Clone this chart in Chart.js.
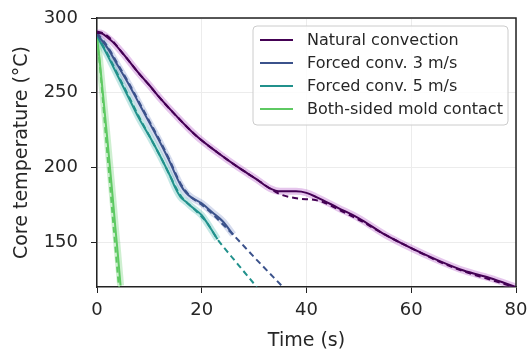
<!DOCTYPE html>
<html>
<head>
<meta charset="utf-8">
<script src="https://cdn.jsdelivr.net/npm/chart.js@4"></script>
<style>
  html, body { margin: 0; padding: 0; background: #fff; }
  #wrap { width: 529px; height: 352px; }
</style>
</head>
<body>
<div id="wrap"><canvas id="coolChart"></canvas></div>
<script>
// Series labels and colours (viridis)
const seriesNames = ['Natural convection', 'Forced conv. 3 m/s', 'Forced conv. 5 m/s', 'Both-sided mold contact'];
const lineColors = ['#440154', '#3b528b', '#21918c', '#5ec962'];
const bandColors = ['rgba(180,90,200,0.35)', 'rgba(120,140,200,0.3)', 'rgba(60,180,170,0.3)', 'rgba(94,201,98,0.3)'];

// Axis ticks
const xTicks = [0, 20, 40, 60, 80];
const yTicks = [150, 200, 250, 300];

// Natural convection - measured
const natTime = [0, 1, 2, 3, 5, 8, 10, 12, 15, 19, 23, 27, 30.5, 33, 35, 38, 40, 42, 46, 50, 55, 60, 65, 70, 75, 80];
const natTemp = [290, 289.5, 287, 284, 276, 263, 255, 246.5, 235, 221, 210, 200, 192, 186, 184, 184, 183, 180, 173, 166, 155, 146, 138, 131, 126, 120];
// Natural convection - model
const natModelTime = [0, 1, 2, 3, 5, 8, 10, 12, 15, 19, 23, 27, 30.5, 33, 35, 37, 39, 41, 43, 46, 50, 55, 60, 65, 70, 75, 80];
const natModelTemp = [291, 290, 288, 284.5, 276, 263, 255, 246.5, 235, 221, 210, 200, 192, 186, 182, 180, 179, 178.5, 177, 172, 165, 155, 146, 137.5, 130.5, 125, 119.5];

// Forced convection 3 m/s - measured / model
const f3Time = [0, 2, 4, 6, 8, 10, 12, 14, 15, 16, 17, 18, 20, 22, 24, 26];
const f3Temp = [289, 280, 268, 256, 243, 230, 217, 203, 195, 188, 183, 180, 176, 170, 164, 155];
const f3ModelTime = [0, 2, 4, 6, 8, 10, 12, 14, 15, 16, 17, 18, 20, 22, 24, 26, 30, 35.5];
const f3ModelTemp = [290, 281, 269, 257, 244, 231, 218, 204, 196, 189, 184, 180, 175, 169, 162, 155, 140, 120];

// Forced convection 5 m/s - measured / model
const f5Time = [0, 2, 4, 6, 8, 10, 12, 14, 15, 16, 17, 18.3, 20, 21, 22.1, 23];
const f5Temp = [288, 275, 261, 247, 233, 221, 208, 194, 186, 180, 177, 173, 168, 163, 157, 152];
const f5ModelTime = [0, 2, 4, 6, 8, 10, 12, 14, 15, 16, 17, 18.3, 20, 21, 22.1, 23, 26, 30.5];
const f5ModelTemp = [289, 276, 262, 248, 234, 221, 208, 194, 187, 181, 177, 173, 167, 163, 157, 152, 139, 120];

// Both-sided mold contact - measured / model
const moldTime = [0, 0.5, 1, 1.5, 2, 2.5, 3, 3.5, 4, 4.5];
const moldTemp = [287, 272, 254, 236, 218, 199, 180, 160, 141, 121];
const moldModelTime = [0, 0.5, 1, 1.5, 2, 2.5, 3, 3.5, 4, 4.2];
const moldModelTemp = [287, 270, 250, 229, 208, 188, 167, 147, 127, 120];

function toPoints(t, y) {
    return t.map((x, i) => ({ x: x, y: y[i] }));
}

const measured = [[natTime, natTemp], [f3Time, f3Temp], [f5Time, f5Temp], [moldTime, moldTemp]];
const models = [[natModelTime, natModelTemp], [f3ModelTime, f3ModelTemp], [f5ModelTime, f5ModelTemp], [moldModelTime, moldModelTemp]];

const datasets = [];
measured.forEach(([t, y], i) => {
    datasets.push({ label: seriesNames[i], data: toPoints(t, y), borderColor: lineColors[i], borderWidth: 2, order: 1 });
    datasets.push({ label: seriesNames[i] + ' band', data: toPoints(t, y), borderColor: bandColors[i], borderWidth: 7, order: 3 });
});
models.forEach(([t, y], i) => {
    datasets.push({ label: seriesNames[i] + ' model', data: toPoints(t, y), borderColor: lineColors[i], borderWidth: 2, borderDash: [6, 4], order: 2 });
});

const textColor = '#262626';
const fontFamily = '"DejaVu Sans", sans-serif';

// Top and right spines
const frame = {
    id: 'frame',
    afterDraw(chart) {
        const { ctx, chartArea: a } = chart;
        ctx.save();
        ctx.strokeStyle = '#222';
        ctx.lineWidth = 1.5;
        ctx.beginPath();
        ctx.moveTo(a.left, a.top);
        ctx.lineTo(a.right, a.top);
        ctx.lineTo(a.right, a.bottom);
        ctx.stroke();
        ctx.restore();
    }
};

// Legend with rounded frame in upper right
const legendBox = {
    id: 'legendBox',
    afterDatasetsDraw(chart) {
        const { ctx, chartArea: a } = chart;
        const w = 255, h = 99;
        const x = a.right - w - 8, y = a.top + 8;
        ctx.save();
        ctx.beginPath();
        ctx.roundRect(x, y, w, h, 4);
        ctx.fillStyle = 'rgba(255,255,255,0.85)';
        ctx.fill();
        ctx.strokeStyle = '#cccccc';
        ctx.lineWidth = 1;
        ctx.stroke();
        ctx.font = '16px ' + fontFamily;
        ctx.textBaseline = 'middle';
        seriesNames.forEach((name, i) => {
            const ly = y + 14 + i * 23;
            ctx.strokeStyle = lineColors[i];
            ctx.lineWidth = 2;
            ctx.beginPath();
            ctx.moveTo(x + 7, ly);
            ctx.lineTo(x + 40, ly);
            ctx.stroke();
            ctx.fillStyle = textColor;
            ctx.fillText(name, x + 54, ly + 1);
        });
        ctx.restore();
    }
};

const ctx = document.getElementById('coolChart').getContext('2d');
new Chart(ctx, {
    type: 'line',
    data: { datasets: datasets },
    options: {
        responsive: true,
        maintainAspectRatio: false,
        animation: false,
        layout: { padding: { top: 18, right: 13, left: 0, bottom: 0 } },
        elements: {
            point: { radius: 0 },
            line: { tension: 0.3, cubicInterpolationMode: 'monotone', fill: false }
        },
        plugins: { legend: { display: false }, tooltip: { enabled: false } },
        scales: {
            x: {
                type: 'linear',
                min: 0,
                max: 80,
                afterFit: s => { s.height = 65; s.paddingLeft = 0; s.paddingRight = 0; },
                afterBuildTicks: s => { s.ticks = xTicks.map(v => ({ value: v })); },
                grid: { color: '#ececec', tickColor: '#222', tickLength: 6, lineWidth: 1 },
                border: { color: '#222', width: 1.5 },
                ticks: { color: textColor, font: { family: fontFamily, size: 18 }, padding: 7, maxRotation: 0 },
                title: { display: true, text: 'Time (s)', color: textColor, font: { family: fontFamily, size: 19 }, padding: { top: 0, bottom: 0 } }
            },
            y: {
                type: 'linear',
                min: 120,
                max: 300,
                afterFit: s => { s.width = 97; s.paddingTop = 0; s.paddingBottom = 0; },
                afterBuildTicks: s => { s.ticks = yTicks.map(v => ({ value: v })); },
                grid: { color: '#ececec', tickColor: '#222', tickLength: 6, lineWidth: 1 },
                border: { color: '#222', width: 1.5 },
                ticks: { color: textColor, font: { family: fontFamily, size: 18 }, padding: 13 },
                title: { display: true, text: 'Core temperature (°C)', color: textColor, font: { family: fontFamily, size: 19 }, padding: { top: 11, bottom: 0 } }
            }
        }
    },
    plugins: [frame, legendBox]
});
</script>
</body>
</html>
